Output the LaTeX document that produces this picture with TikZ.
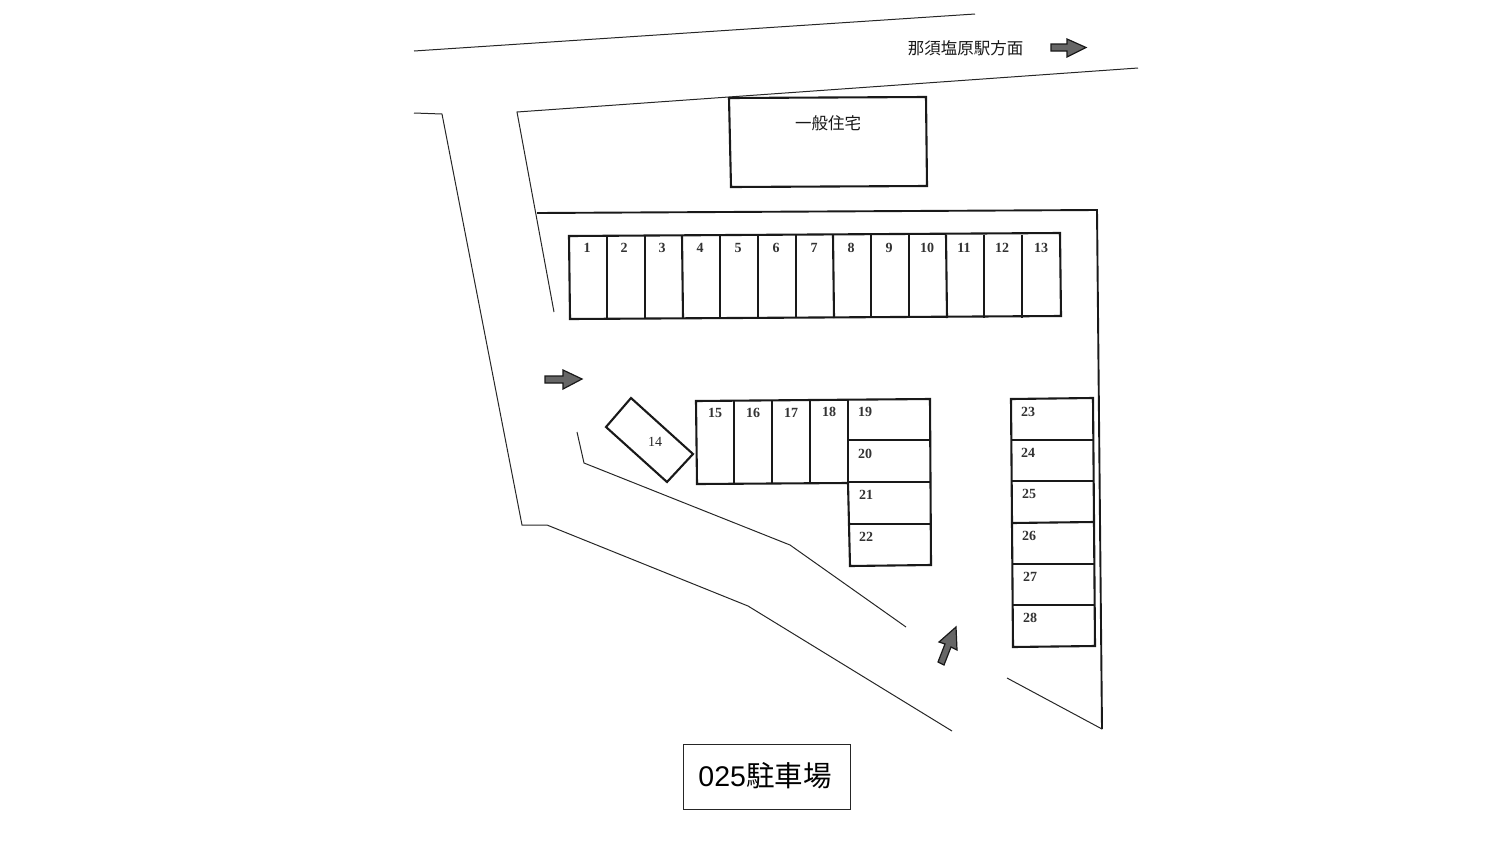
\documentclass[tikz,border=0pt]{standalone}
\usepackage{fontspec}
\setmainfont{Liberation Serif}
\newfontfamily\jpfont{Noto Sans CJK JP}
\newfontfamily\capfont{Liberation Sans}
\begin{document}
\begin{tikzpicture}[x=1pt,y=-1pt,
  roadline/.style={draw=black!85,line width=1pt,line join=miter},
  stallline/.style={draw=black!90,line width=2.1pt,line join=miter},
  num/.style={font=\bfseries\fontsize{14}{14}\selectfont,inner sep=0pt,text=black!80},
  numthin/.style={font=\fontsize{14}{14}\selectfont,inner sep=0pt,text=black!85},
  jplabel/.style={font=\jpfont\fontsize{16.5}{17}\selectfont,inner sep=0pt,text=black!90},
  blockarrow/.style={fill=black!60,draw=black!90,line width=1.2pt,line join=miter}]
\useasboundingbox (0,0) rectangle (1500,844);
% roads and site outline
\draw[roadline] (414,51) -- (975,14);
\draw[roadline] (1138,68) -- (517,112) -- (554,312);
\draw[roadline] (414,113) -- (442,114) -- (522,525) -- (547,525) -- (748,606) -- (952,731);
\draw[roadline] (577,432) -- (584,463) -- (790,545) -- (906,627);
\draw[draw=black!90,line width=1.9pt] (537,213) -- (1097,210) -- (1102,729);
\draw[roadline] (1102,729) -- (1007,678);
% house
\draw[stallline] (729,98) -- (926,97) -- (927,186) -- (731,187) -- cycle;
\node[jplabel] (house) at (828,123) {一般住宅};
% top row
\draw[stallline] (569,236) -- (1060,233) -- (1061,316) -- (570,319) -- cycle;
\foreach \xa/\xb in {607/607,645/645,682/683,720/720,758/758,796/796,833/834,871/871,909/909,946/947,984/984,1022/1022}
  \draw[stallline] (\xa,235) -- (\xb,318);
\foreach \n/\x in {1/587,2/624,3/662,4/700,5/738,6/776,7/814,8/851,9/889,10/927,11/964,12/1002,13/1041}
  \node[num] (s\n) at (\x,248) {\n};
% stall 14
\draw[stallline] (631,398) -- (693,454) -- (667,482) -- (606,427) -- cycle;
\node[numthin] (s14) at (655,442) {14};
% middle row
\draw[stallline] (696,401) -- (930,399) -- (931,565) -- (850,566) -- (848,483) -- (697,484) -- cycle;
\foreach \x in {734,772,810,848}
  \draw[stallline] (\x,400) -- (\x,483);
\draw[stallline] (848,440) -- (930,440);
\draw[stallline] (848,482) -- (931,482);
\draw[stallline] (849,524) -- (931,524);
\foreach \n/\x/\y in {15/715/413,16/753/413,17/791/413,18/829/412,19/865/412,20/865/454,21/866/495,22/866/537}
  \node[num] (s\n) at (\x,\y) {\n};
% right column
\draw[stallline] (1011,399) -- (1093,398) -- (1095,646) -- (1013,647) -- cycle;
\draw[stallline] (1011,440) -- (1093,440);
\draw[stallline] (1012,481) -- (1094,481);
\draw[stallline] (1012,523) -- (1094,522);
\draw[stallline] (1012,564) -- (1095,564);
\draw[stallline] (1013,605) -- (1095,605);
\foreach \n/\x/\y in {23/1028/412,24/1028/453,25/1029/494,26/1029/536,27/1030/577,28/1030/618}
  \node[num] (s\n) at (\x,\y) {\n};
% arrows
\draw[blockarrow] (1051,44) -- (1067,44) -- (1067,39) -- (1086,47.5) -- (1067,57) -- (1067,51) -- (1051,51) -- cycle;
\draw[blockarrow] (545,376) -- (563,376) -- (563,370) -- (582,379) -- (563,389) -- (563,383) -- (545,383) -- cycle;
\draw[blockarrow] (938,662) -- (945,644) -- (939,642) -- (956,627) -- (957,650) -- (951,647) -- (944,665) -- cycle;
% labels
\node[jplabel] (dir) at (965.5,48) {那須塩原駅方面};
\node[draw=black!85,line width=1pt,minimum width=167pt,minimum height=65pt,inner sep=0pt] (title) at (766.5,776.5) {};
\node[font=\capfont\fontsize{28.5}{30}\selectfont,inner sep=0pt] (titletext) at (765,775.5) {025{\jpfont 駐車場}};
\end{tikzpicture}
\end{document}
